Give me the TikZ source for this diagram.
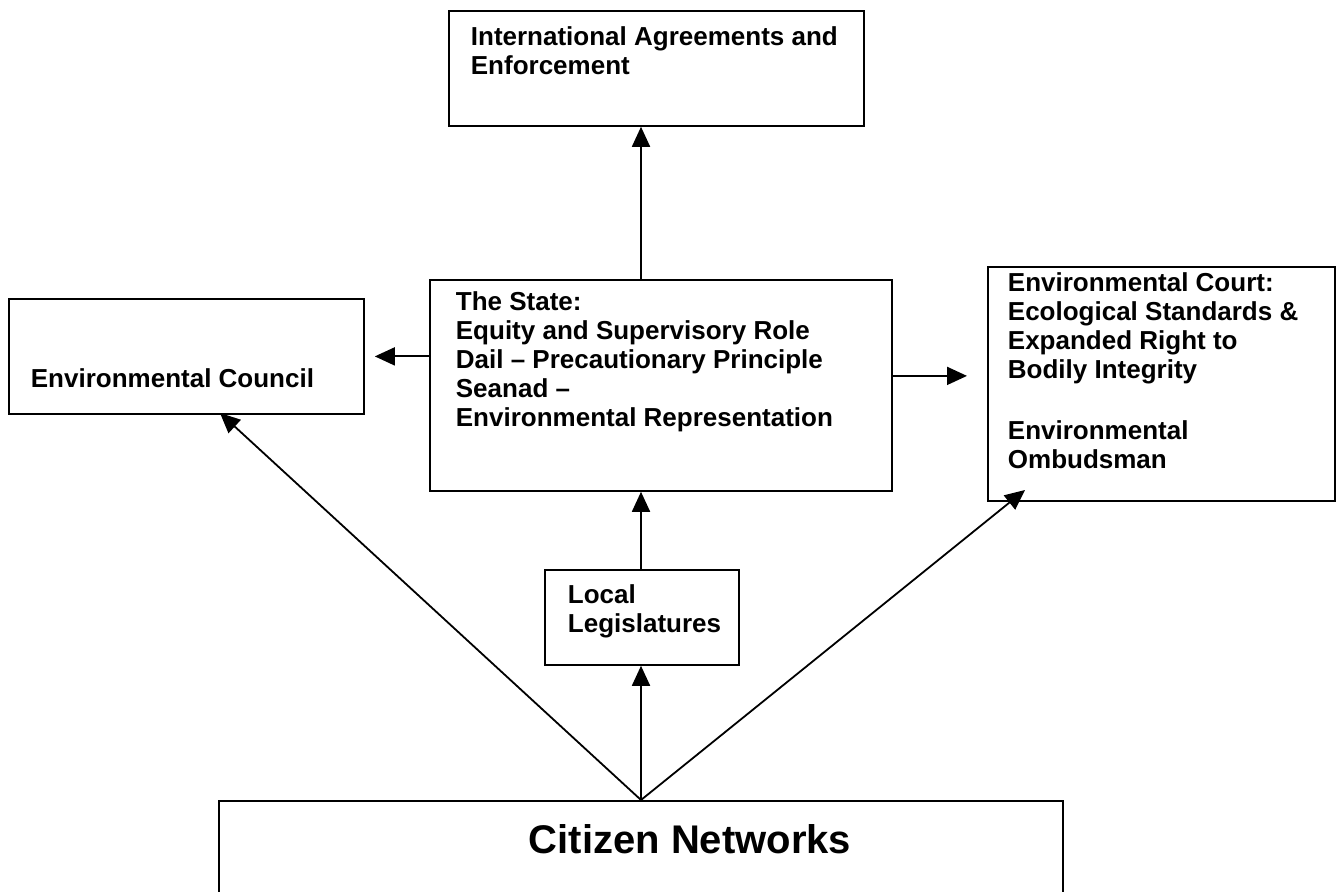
\documentclass[tikz,border=0pt]{standalone}
\usepackage{fontspec}
\setmainfont{Liberation Sans}
\usetikzlibrary{arrows.meta}
\begin{document}
\begin{tikzpicture}[x=0.5pt,y=-0.5pt,->,>={Triangle[length=10pt,width=9pt]},line width=0.9pt,
    font=\bfseries\fontsize{13}{14.5}\selectfont]
    \tikzstyle{box}=[draw,-,anchor=north west,inner sep=0pt]
    \tikzstyle{label text}=[anchor=north west,align=left,inner sep=0pt]
    \useasboundingbox (0,0) rectangle (1337,892);
    % Draw the boxes
    \node[box,minimum width=207.5pt,minimum height=57.5pt] (intl) at (448,10) {};
    \node[box,minimum width=177.5pt,minimum height=57.5pt] (council) at (8,298) {};
    \node[box,minimum width=231pt,minimum height=105.5pt] (state) at (429,279) {};
    \node[box,minimum width=173.5pt,minimum height=117pt] (court) at (987,266) {};
    \node[box,minimum width=97pt,minimum height=47.5pt] (local) at (544,569) {};
    \node[box,minimum width=422pt,minimum height=100pt] (citizen) at (218,800) {};
    % Texts in the boxes
    \node[label text] (intl-t) at (470,26) {International Agreements and\\Enforcement};
    \node[label text] (council-t) at (30,368) {Environmental Council};
    \node[label text] (state-t) at (455,291) {The State:\\Equity and Supervisory Role\\Dail -- Precautionary Principle\\Seanad --\\Environmental Representation};
    \node[label text] (court-t) at (1007,272) {Environmental Court:\\Ecological Standards \&\\Expanded Right to\\Bodily Integrity\\[16pt]Environmental\\Ombudsman};
    \node[label text] (local-t) at (567,584) {Local\\Legislatures};
    \node[font=\bfseries\fontsize{20}{24}\selectfont,inner sep=0pt,anchor=base] (citizen-t) at (690,853) {Citizen Networks};
    % Draw the connectors
    \coordinate (apex) at (641,800);
    \coordinate (council-tip) at (220,413);
    \coordinate (court-tip) at (1025,490);
    \draw (apex |- state.north) -- (apex |- intl.south);
    \draw[shorten >=5pt] (state.west |- council.east) -- (council.east);
    \draw[shorten >=10pt] ([yshift=4.75pt]state.east) -- ([yshift=4.75pt]state.east -| court.west);
    \draw (apex |- local.north) -- (apex |- state.south);
    \draw (apex) -- (apex |- local.south);
    \draw (apex) -- (council-tip);
    \draw (apex) -- (court-tip);
\end{tikzpicture}
\end{document}
